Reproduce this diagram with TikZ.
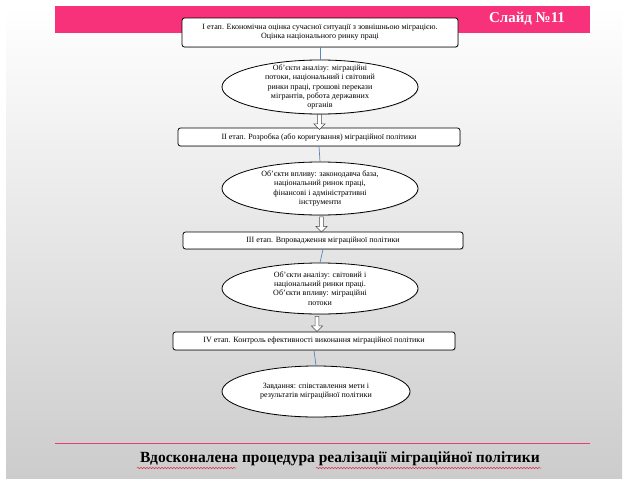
\documentclass[tikz,border=0pt]{standalone}
\usepackage{fontspec}
\setmainfont{Liberation Serif}
\usetikzlibrary{shapes.geometric,shapes.arrows,decorations.pathmorphing,shadows,calc}
\definecolor{slidepink}{HTML}{F7317A}
\definecolor{rulepink}{HTML}{E8406E}
\definecolor{linkblue}{HTML}{5A86B8}
\definecolor{spellred}{HTML}{E0304A}
\begin{document}
\begin{tikzpicture}[x=1pt,y=-1pt,
  stagebox/.style={draw=black,line width=0.8pt,rounded corners=2.5pt,fill=white,inner sep=1pt,align=center,
    font=\fontsize{8}{9}\selectfont,
    drop shadow={shadow xshift=0.8pt,shadow yshift=-0.8pt,opacity=0.25}},
  objell/.style={ellipse,draw=black,line width=0.8pt,fill=white,inner sep=0pt,
    drop shadow={shadow xshift=0.8pt,shadow yshift=-0.8pt,opacity=0.25}},
  objtext/.style={align=center,inner sep=0pt,font=\fontsize{8}{9.3}\selectfont},
  hollowarrow/.style={single arrow,draw=black!70,fill=white,line width=0.5pt,shape border rotate=270,
    minimum height=15pt,minimum width=11pt,single arrow head extend=2.5pt,inner sep=1pt},
  linkline/.style={draw=linkblue,line width=0.7pt},
  spell/.style={draw=spellred,line width=0.5pt,decorate,decoration={snake,amplitude=0.7pt,segment length=3pt}}
]
\useasboundingbox (0,0) rectangle (629,479);
\fill[white] (0,0) rectangle (629,479);
\shade[top color=white,bottom color=black!20] (6,6) rectangle (622,479);
\fill[slidepink] (55,6) rectangle (590,33);
\node[text=white,font=\fontsize{15}{17}\bfseries\selectfont] (slide) at (527,19) {Слайд №11};

\node[stagebox,minimum width=276pt,minimum height=29pt] (b1) at (320,32.5)
  {І етап. Економічна оцінка сучасної ситуації з зовнішньою міграцією.\\Оцінка національного ринку праці};
\node[objell,minimum width=196pt,minimum height=54pt] (e1) at (320,87) {};
\node[objtext] (t1) at (e1.center)
  {Об’єкти аналізу: міграційні\\потоки, національний і світовий\\ринки праці, грошові перекази\\мігрантів, робота державних\\органів};
\node[stagebox,minimum width=282pt,minimum height=18pt] (b2) at (319,137)
  {ІІ етап. Розробка (або коригування) міграційної політики};
\node[objell,minimum width=196pt,minimum height=53pt] (e2) at (320,188.5) {};
\node[objtext] (t2) at (e2.center)
  {Об’єкти впливу: законодавча база,\\національний ринок праці,\\фінансові і адміністративні\\інструменти};
\node[stagebox,minimum width=280pt,minimum height=17pt] (b3) at (323,240.5)
  {ІІІ етап. Впровадження міграційної політики};
\node[objell,minimum width=196pt,minimum height=51pt] (e3) at (320,288.5) {};
\node[objtext] (t3) at (e3.center)
  {Об’єкти аналізу: світовий і\\національний ринки праці.\\Об’єкти впливу: міграційні\\потоки};
\node[stagebox,minimum width=282pt,minimum height=18pt] (b4) at (314,341)
  {IV етап. Контроль ефективності виконання міграційної політики};
\node[objell,minimum width=188pt,minimum height=51pt] (e4) at (316,391.5) {};
\node[objtext] (t4) at (e4.center)
  {Завдання: співставлення мети і\\результатів міграційної політики};

\path[linkline] (b1.south) -- (e1.north);
\path[linkline] (b2.south) -- (e2.north);
\path[linkline] (b3.south) -- (e3.north);
\path[linkline] (b4.south) -- (e4.north);

\node[hollowarrow] (a1) at ($(e1.south)!0.5!(b2.north)$) {};
\node[hollowarrow] (a2) at ($(e2.south)!0.5!(b3.north)$) {};
\node[hollowarrow] (a3) at ($(e3.south)!0.5!(b4.north)$) {};

\draw[rulepink,line width=1pt] (55,443) -- (590,443);
\node[font=\fontsize{15.5}{17}\bfseries\selectfont,inner sep=0pt] (title) at (340,459)
  {Вдосконалена процедура реалізації міграційної політики};
\draw[spell] (137,468) -- (236,468);
\draw[spell] (316,468) -- (541,468);
\end{tikzpicture}
\end{document}
